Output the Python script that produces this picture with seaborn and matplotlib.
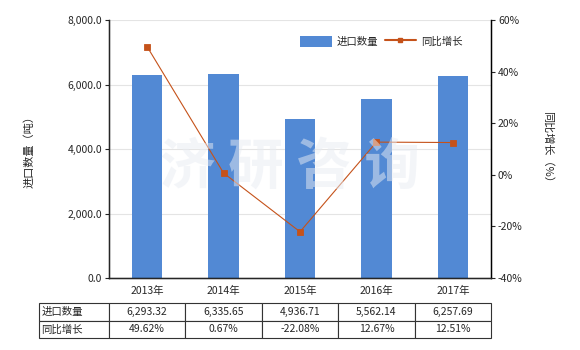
import matplotlib
matplotlib.use("Agg")
import matplotlib.pyplot as plt
import seaborn as sns
import numpy as np
import pandas as pd
from matplotlib.lines import Line2D
from matplotlib.patches import Patch

years = ["2013年", "2014年", "2015年", "2016年", "2017年"]
quantity = [6293.32, 6335.65, 4936.71, 5562.14, 6257.69]
growth = [49.62, 0.67, -22.08, 12.67, 12.51]
qty_labels = ["6,293.32", "6,335.65", "4,936.71", "5,562.14", "6,257.69"]
growth_labels = ["49.62%", "0.67%", "-22.08%", "12.67%", "12.51%"]
left_ticks = [0, 2000, 4000, 6000, 8000]
right_ticks = [-40, -20, 0, 20, 40, 60]

sns.set_style("white")
plt.rcParams['font.family'] = ['Noto Sans CJK SC', 'DejaVu Sans']
plt.rcParams['axes.unicode_minus'] = False

bar_color = "#5289D4"
line_color = "#C5521A"
fs = 7.5

df = pd.DataFrame({"year": years, "quantity": quantity, "growth": growth})

fig = plt.figure(figsize=(5.8, 3.5), dpi=100)
ax = fig.add_axes([109/580, 1-278/350, 382/580, 258/350])

sns.barplot(data=df, x="year", y="quantity", color=bar_color, width=0.4,
            saturation=1, ax=ax, zorder=2, linewidth=0, edgecolor="none")
ax.set_ylim(0, 8000)
ax.set_yticks(left_ticks)
ax.set_yticklabels([f"{v:,.1f}" for v in left_ticks], fontsize=fs)
ax.set_xlim(-0.5, 4.5)
ax.tick_params(axis='x', labelsize=fs, length=3, direction='out', pad=3)
ax.tick_params(axis='y', length=3, direction='out', pad=2, left=True)
ax.grid(axis='y', color="#E4E4E4", linewidth=0.8, zorder=0)
ax.set_axisbelow(True)
ax.set_xlabel("")
ax.set_ylabel("进口数量（吨）", fontsize=fs+0.5, labelpad=24)
for s in ["top"]:
    ax.spines[s].set_visible(False)
for s in ["left", "bottom", "right"]:
    ax.spines[s].set_color("black")
    ax.spines[s].set_linewidth(1.0)

ax2 = ax.twinx()
sns.pointplot(data=df, x="year", y="growth", color=line_color, markers="s",
              markersize=4, linewidth=0.8, ax=ax2, zorder=3)
ax2.set_ylim(-40, 60)
ax2.set_xlim(-0.5, 4.5)
ax2.set_yticks(right_ticks)
ax2.set_yticklabels([f"{v}%" for v in right_ticks], fontsize=fs)
ax2.tick_params(axis='y', length=3, direction='out', pad=2, right=True)
ax2.set_xlabel("")
ax2.set_ylabel("同比增长（%）", fontsize=fs+0.5, rotation=270, labelpad=22)
ax2.spines["top"].set_visible(False)
ax2.spines["right"].set_color("black")
ax2.grid(False)

# watermark
fig.text(0.5, 0.52, "济 研 咨 询", fontsize=40, color="#E8ECF3", alpha=0.5,
         ha="center", va="center", fontweight="bold", zorder=10)

handles = [Patch(facecolor=bar_color, edgecolor='none'),
           Line2D([0], [0], color=line_color, marker='s', markersize=3, linewidth=1.5)]
ax2.legend(handles, ["进口数量", "同比增长"], loc="upper right", ncol=2,
           frameon=False, fontsize=fs, bbox_to_anchor=(0.95, 0.975),
           handlelength=3.0, handleheight=1.3, columnspacing=0.6, handletextpad=0.5)

# table
cells = [["进口数量"] + qty_labels, ["同比增长"] + growth_labels]
total_w = 452.0
col_w = [70/total_w] + [76.4/total_w]*5
tbl = ax.table(cellText=cells, colWidths=col_w, cellLoc='center',
               bbox=[(39-109)/382, (278-338)/258, total_w/382, 35/258])
tbl.auto_set_font_size(False)
tbl.set_fontsize(fs)
for (r, c), cell in tbl.get_celld().items():
    cell.set_edgecolor("#333333")
    cell.set_linewidth(0.8)
    if c == 0:
        cell.get_text().set_horizontalalignment('left')
        cell.PAD = 0.03

fig.savefig("out.png", dpi=100)
